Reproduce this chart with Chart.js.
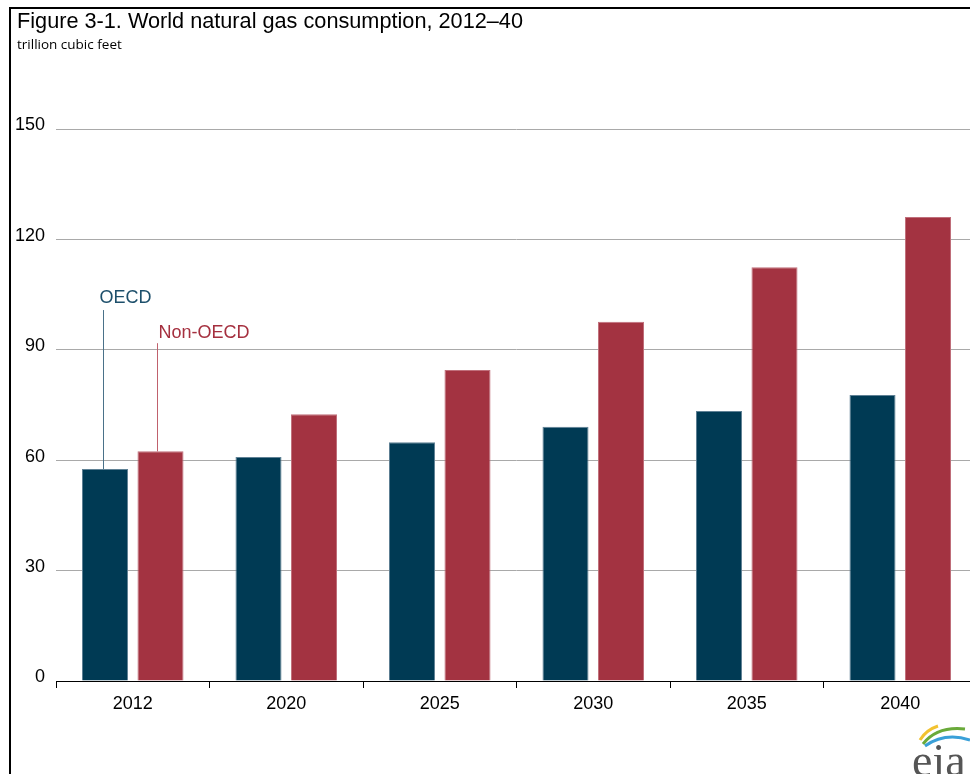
<!DOCTYPE html>
<html lang="en">
<head>
<meta charset="UTF-8">
<title>World natural gas consumption, 2012–40</title>
<script src="https://cdn.jsdelivr.net/npm/chart.js"></script>
<style>
    html, body { margin: 0; padding: 0; background: #fff; overflow: hidden; }
    .page { position: relative; width: 970px; height: 774px; overflow: hidden; }
    .frame-top { position: absolute; left: 9px; top: 7px; width: 961px; height: 2px; background: #000; }
    .frame-left { position: absolute; left: 9px; top: 7px; width: 2px; height: 767px; background: #000; }
    .title { position: absolute; left: 17px; top: 8px; font: 21.7px "Liberation Sans", Arial, sans-serif; color: #000; white-space: nowrap; }
    .subtitle { position: absolute; left: 17px; top: 35px; font: 13.5px "Open Sans", sans-serif; color: #000; white-space: nowrap; }
    #chart { position: absolute; left: 0; top: 0; }
    .logo { position: absolute; left: 905px; top: 712px; }
</style>
</head>
<body>
<div class="page">
    <canvas id="chart" width="985" height="774" style="width:985px;height:774px"></canvas>
    <div class="frame-top"></div>
    <div class="frame-left"></div>
    <div class="title">Figure 3-1. World natural gas consumption, 2012–40</div>
    <div class="subtitle">trillion cubic feet</div>
    <svg class="logo" width="65" height="62" viewBox="0 0 65 62">
        <path d="M15 28 Q21 18 33 14" fill="none" stroke="#f2c230" stroke-width="3"/>
        <path d="M18 32 Q32 14 60 17" fill="none" stroke="#6aaa3a" stroke-width="3"/>
        <path d="M20 34 Q40 20 65 28" fill="none" stroke="#3aa0d8" stroke-width="3"/>
        <text x="7" y="64" font-family="Liberation Serif, serif" font-size="46" fill="#555">eia</text>
    </svg>
</div>

<script>
    // values (trillion cubic feet)
    const years = ['2012', '2020', '2025', '2030', '2035', '2040'];
    const oecd = [57.6, 60.9, 64.9, 69.1, 73.4, 77.7];
    const nonOecd = [62.4, 72.5, 84.5, 97.6, 112.4, 126.1];
    const yTicks = [0, 30, 60, 90, 120, 150];
    const seriesNames = ['OECD', 'Non-OECD'];

    // callout labels above the 2012 bars
    const callouts = [
        { at: 100.8, dx: -2, tx: -4, gap: 7.5, line: '#4a7189', text: '#1d4f6b' },
        { at: 91.8, dx: -3.5, tx: 1, gap: 5.5, line: '#c0616d', text: '#a5303f' }
    ];

    const calloutPlugin = {
        id: 'callouts',
        afterDatasetsDraw(chart) {
            const ctx = chart.ctx;
            const yScale = chart.scales.y;
            callouts.forEach((c, i) => {
                const bar = chart.getDatasetMeta(i).data[0];
                const lx = Math.round(bar.x + c.dx) + 0.5;
                const top = yScale.getPixelForValue(c.at);
                ctx.save();
                ctx.strokeStyle = c.line;
                ctx.lineWidth = 1;
                ctx.beginPath();
                ctx.moveTo(lx, top);
                ctx.lineTo(lx, bar.y);
                ctx.stroke();
                ctx.fillStyle = c.text;
                ctx.font = '18px "Liberation Sans", Arial, sans-serif';
                ctx.textBaseline = 'alphabetic';
                ctx.fillText(seriesNames[i], lx + c.tx, top - c.gap);
                ctx.restore();
            });
        }
    };

    const tickFont = { family: '"Liberation Sans", Arial, sans-serif', size: 18 };

    new Chart(document.getElementById('chart'), {
        type: 'bar',
        data: {
            labels: years,
            datasets: [
                {
                    label: seriesNames[0],
                    data: oecd,
                    backgroundColor: '#003a54',
                    borderColor: '#5f8195',
                    borderWidth: 1,
                    categoryPercentage: 0.723,
                    barPercentage: 0.83
                },
                {
                    label: seriesNames[1],
                    data: nonOecd,
                    backgroundColor: '#a33341',
                    borderColor: '#c06f7b',
                    borderWidth: 1,
                    categoryPercentage: 0.723,
                    barPercentage: 0.83
                }
            ]
        },
        options: {
            responsive: false,
            animation: false,
            layout: { padding: { top: 129, right: 8, left: 0, bottom: 0 } },
            plugins: {
                legend: { display: false },
                tooltip: { enabled: false }
            },
            scales: {
                x: {
                    afterFit(scale) { scale.height = 93; },
                    grid: {
                        offset: true,
                        drawOnChartArea: false,
                        drawTicks: true,
                        tickLength: 7,
                        color: '#000'
                    },
                    border: { display: true, color: '#000', width: 1 },
                    ticks: { color: '#000', font: tickFont, padding: 5, maxRotation: 0 }
                },
                y: {
                    min: 0,
                    max: 150,
                    afterFit(scale) { scale.width = 56; },
                    afterBuildTicks(scale) { scale.ticks = yTicks.map(v => ({ value: v })); },
                    grid: { color: '#a9a9a9', lineWidth: 1, drawTicks: false },
                    border: { display: false },
                    ticks: { color: '#000', font: tickFont, padding: 11, labelOffset: -3.5 }
                }
            }
        },
        plugins: [calloutPlugin]
    });
</script>
</body>
</html>
